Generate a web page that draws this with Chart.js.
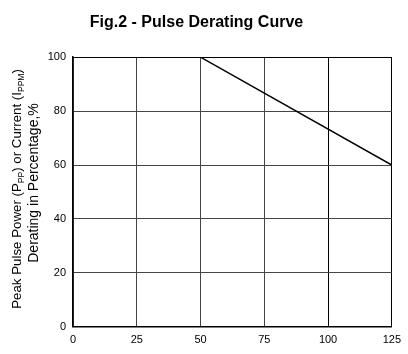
<!DOCTYPE html>
<html>
<head>
<meta charset="utf-8">
<script src="https://cdn.jsdelivr.net/npm/chart.js@4.4.0/dist/chart.umd.min.js"></script>
<style>
  html, body { margin: 0; padding: 0; background: #fff; }
  #wrap { width: 408px; height: 354px; }
</style>
</head>
<body>
<div id="wrap"><canvas id="derating" width="408" height="354"></canvas></div>
<script>
// curve data: ambient temperature vs. peak pulse derating (%)
const tempPoints = [0, 50, 125];
const deratingPct = [100, 100, 60];
const xTicks = [0, 25, 50, 75, 100, 125];
const yTicks = [0, 20, 40, 60, 80, 100];

const chartTitle = 'Fig.2 - Pulse Derating Curve';
// y-axis title pieces; sub = drawn as subscript
const yTitleLine1 = [
    { t: 'Peak Pulse Power (P' }, { t: 'PP', sub: true },
    { t: ') or Current (I' }, { t: 'PPM', sub: true }, { t: ')' }
];
const yTitleLine2 = 'Derating in Percentage,%';

// draws the rotated two-line y title with subscripts
const yTitlePlugin = {
    id: 'yTitle',
    afterDraw(chart) {
        const ctx = chart.ctx;
        const area = chart.chartArea;
        const cy = (area.top + area.bottom) / 2;
        ctx.save();
        ctx.fillStyle = '#000';
        ctx.textBaseline = 'alphabetic';

        // line 1
        ctx.save();
        ctx.translate(21, cy - 3);
        ctx.rotate(-Math.PI / 2);
        let total = 0;
        yTitleLine1.forEach(p => {
            ctx.font = p.sub ? '8.5px Arial, "Liberation Sans"' : '13.3px Arial, "Liberation Sans"';
            total += ctx.measureText(p.t).width;
        });
        let x = -total / 2;
        yTitleLine1.forEach(p => {
            ctx.font = p.sub ? '8.5px Arial, "Liberation Sans"' : '13.3px Arial, "Liberation Sans"';
            ctx.fillText(p.t, x, p.sub ? 3 : 0);
            x += ctx.measureText(p.t).width;
        });
        ctx.restore();

        // line 2
        ctx.save();
        ctx.translate(38, cy - 9);
        ctx.rotate(-Math.PI / 2);
        ctx.font = '14px Arial, "Liberation Sans"';
        ctx.textAlign = 'center';
        ctx.fillText(yTitleLine2, 0, 0);
        ctx.restore();

        ctx.restore();
    }
};

const gridColor = ctx => (ctx.tick && (ctx.tick.value === 125 || ctx.tick.value === 100)) ? '#000' : '#444';

new Chart(document.getElementById('derating').getContext('2d'), {
    type: 'line',
    data: {
        datasets: [{
            data: tempPoints.map((t, i) => ({ x: t, y: deratingPct[i] })),
            borderColor: '#000',
            borderWidth: 1.5,
            pointRadius: 0,
            fill: false,
            tension: 0
        }]
    },
    options: {
        responsive: false,
        animation: false,
        layout: { padding: { left: 0, right: 15, top: 0, bottom: 0 } },
        plugins: {
            legend: { display: false },
            tooltip: { enabled: false },
            title: {
                display: true,
                text: chartTitle,
                color: '#000',
                font: { family: 'Arial, "Liberation Sans"', size: 16, weight: 'bold' },
                padding: { top: 13, bottom: 25 }
            }
        },
        scales: {
            x: {
                type: 'linear',
                min: 0,
                max: 125,
                afterBuildTicks: s => { s.ticks = xTicks.map(v => ({ value: v })); },
                grid: { color: gridColor, lineWidth: 1, drawTicks: false },
                border: { color: '#000', width: 1.5 },
                ticks: {
                    color: '#000',
                    padding: 7,
                    font: { family: 'Arial, "Liberation Sans"', size: 11 }
                }
            },
            y: {
                min: 0,
                max: 100,
                afterBuildTicks: s => { s.ticks = yTicks.map(v => ({ value: v })); },
                afterFit: s => { s.width = 73; },
                grid: { color: gridColor, lineWidth: 1, drawTicks: false },
                border: { color: '#000', width: 1.5 },
                ticks: {
                    color: '#000',
                    padding: 7,
                    font: { family: 'Arial, "Liberation Sans"', size: 11 }
                }
            }
        }
    },
    plugins: [yTitlePlugin]
});
</script>
</body>
</html>
